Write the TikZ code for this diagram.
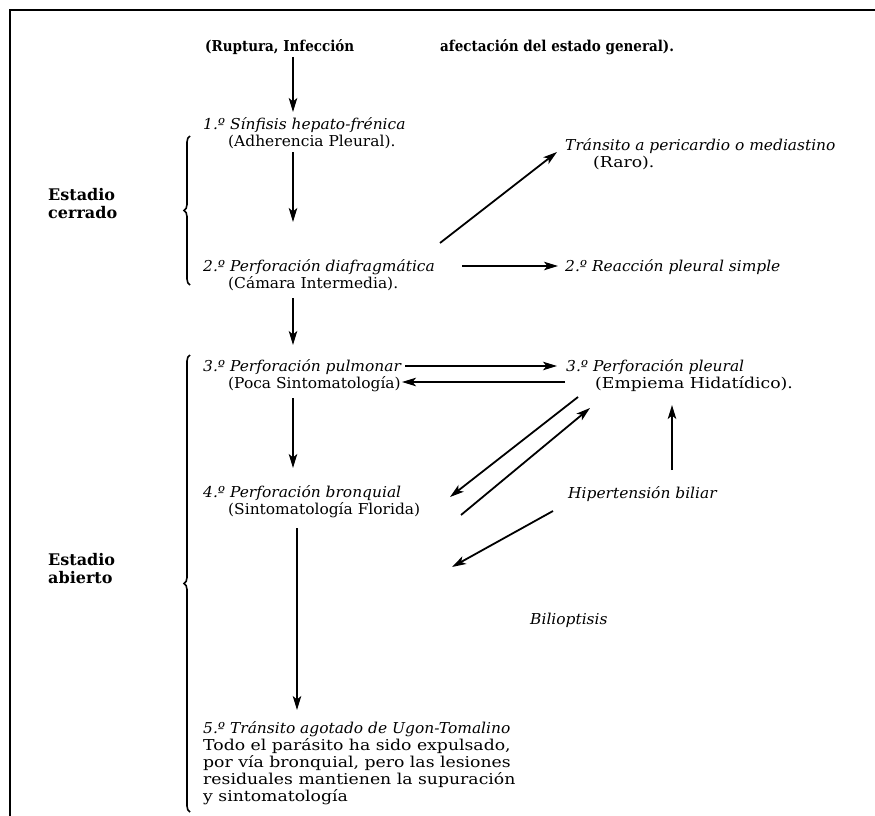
\documentclass[tikz,border=0pt]{standalone}
\usepackage{fontspec}
\setmainfont{DejaVu Serif}[FakeStretch=1.15, ItalicFeatures={FakeStretch=1.03}, BoldFeatures={FakeStretch=0.9}]
\newfontfamily\narrowfont{DejaVu Serif}[FakeStretch=1.03]
\newfontfamily\estfont{DejaVu Serif}[FakeStretch=1.0]
\usetikzlibrary{arrows.meta,decorations.pathreplacing,calc}
\begin{document}
\begin{tikzpicture}[x=1pt,y=-1pt,
  txt/.style={inner sep=0pt, anchor=base west, align=left, font=\fontsize{15}{17}\selectfont},
  txtp/.style={txt, font=\fontsize{15}{17}\selectfont\narrowfont},
  txti/.style={txt, font=\fontsize{15}{17}\selectfont\itshape},
  txtb/.style={txt, font=\fontsize{15}{17}\selectfont\bfseries},
  txte/.style={txt, font=\fontsize{16}{18}\selectfont\estfont\bfseries},
  arr/.style={line width=1.8pt, -{Stealth[length=14pt,width=8.5pt,inset=3.5pt]}},
  brc/.style={line width=1.6pt, decorate, decoration={brace, amplitude=6pt, aspect=0.5}},
  frame/.style={line width=1.5pt}]
\useasboundingbox (0,0) rectangle (875,816);
% frame
\draw[frame] (10,816) -- (10,10) -- (875,10);
% text
\node[txtb] (top1) at (205,52) {(Ruptura, Infección};
\node[txtb] (top2) at (440,52) {afectación del estado general).};
\node[txti] (n1a) at (203,129) {1.º Sínfisis hepato-frénica};
\node[txtp] (n1b) at (228,146) {(Adherencia Pleural).};
\node[txti] (n2a) at (203,271) {2.º Perforación diafragmática};
\node[txtp] (n2b) at (228,288) {(Cámara Intermedia).};
\node[txti] (n3a) at (203,371) {3.º Perforación pulmonar};
\node[txtp] (n3b) at (228,388) {(Poca Sintomatología)};
\node[txti] (n4a) at (203,497) {4.º Perforación bronquial};
\node[txtp] (n4b) at (228,514) {(Sintomatología Florida)};
\node[txti] (n5a) at (203,733) {5.º Tránsito agotado de Ugon-Tomalino};
\node[txt]  (n5b) at (203,801) {Todo el parásito ha sido expulsado,\\por vía bronquial, pero las lesiones\\residuales mantienen la supuración\\y sintomatología};
\node[txti] (peria) at (565,150) {Tránsito a pericardio o mediastino};
\node[txt]  (perib) at (593,167) {(Raro).};
\node[txti] (reac) at (565,271) {2.º Reacción pleural simple};
\node[txti] (pleua) at (566,371) {3.º Perforación pleural};
\node[txt]  (pleub) at (595,388) {(Empiema Hidatídico).};
\node[txti] (hip) at (568,498) {Hipertensión biliar};
\node[txti] (bili) at (530,624) {Bilioptisis};
\node[txte] (cer) at (48,218) {Estadio\\cerrado};
\node[txte] (abi) at (48,583) {Estadio\\abierto};
% braces
\draw[brc] (190,285) -- (190,136);
\draw[brc] (190,812) -- (190,355);
% vertical chain
\draw[arr] ($(top1.base west)+(88,5)$) -- ($(n1a.base west)+(90,-17)$);
\draw[arr] ($(n1b.base west)+(65,6)$) -- ($(n2a.base west)+(90,-49)$);
\draw[arr] ($(n2b.base west)+(65,10)$) -- ($(n3a.base west)+(90,-26)$);
\draw[arr] ($(n3b.base west)+(65,10)$) -- ($(n4a.base west)+(90,-29)$);
\draw[arr] ($(n4b.base west)+(69,14)$) -- ($(n5a.base west)+(94,-23)$);
% side arrows
\draw[arr] ($(n2a.base west)+(237,-28)$) -- ($(peria.base west)+(-8,2)$);
\draw[arr] ($(n2a.base west)+(259,-5)$) -- ($(reac.base west)+(-7,-5)$);
\draw[arr] ($(n3a.base west)+(202,-5)$) -- ($(pleua.base west)+(-9,-5)$);
\draw[arr] ($(pleub.base west)+(-30,-6)$) -- ($(n3b.base west)+(174,-6)$);
\draw[arr] ($(pleub.base west)+(-17,9)$) -- ($(n4b.base west)+(222,-17)$);
\draw[arr] ($(n4b.base west)+(233,1)$) -- ($(pleub.base west)+(-5,20)$);
\draw[arr] ($(hip.base west)+(104,-28)$) -- ($(pleub.base west)+(77,17)$);
\draw[arr] ($(hip.base west)+(-15,13)$) -- ($(bili.base west)+(-78,-57)$);
\end{tikzpicture}
\end{document}
